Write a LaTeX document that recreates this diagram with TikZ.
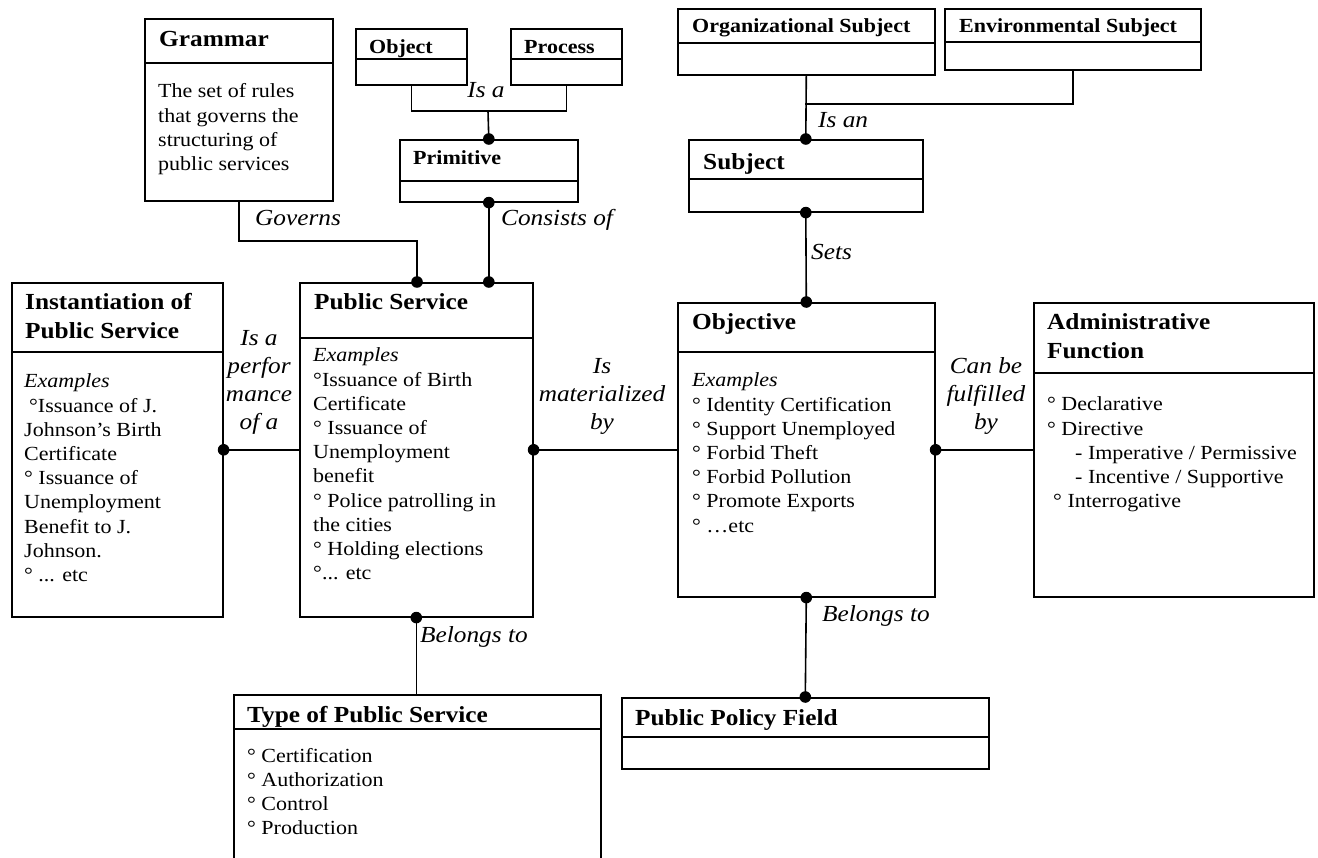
\documentclass[tikz,border=0pt]{standalone}
\usepackage{fontspec}
\setmainfont{Liberation Serif}[FakeStretch=1.1]
\usetikzlibrary{calc}
\tikzset{
  cls/.style={draw, line width=1.6pt, rectangle, inner sep=0pt, anchor=north west},
  ttl/.style={anchor=base west, inner sep=0pt, font=\fontsize{23}{29}\selectfont\bfseries},
  sttl/.style={anchor=base west, inner sep=0pt, font=\fontsize{20}{24}\selectfont\bfseries},
  bodytxt/.style={anchor=base west, inner sep=0pt, font=\fontsize{20}{24.2}\selectfont},
  lbl/.style={inner sep=0pt, align=center, font=\fontsize{23}{28}\selectfont\itshape},
  conn/.style={line width=1.6pt},
  dotmark/.style={fill=black},
}
\newcommand\divline[2]{\draw[conn] ([yshift=-#2pt]#1.north west) -- ([yshift=-#2pt]#1.north east);}
\newcommand\pbx[1]{\parbox[t]{300pt}{\raggedright #1}}
\newcommand\jdot[1]{\fill[dotmark] #1 circle (5.8pt);}
\begin{document}
\begin{tikzpicture}[x=1pt,y=-1pt]
\useasboundingbox (0,0) rectangle (1318,858);
\fill[white] (0,0) rectangle (1318,858);
\clip (0,0) rectangle (1318,858);

% ---------- boxes ----------
\node[cls, minimum width=188pt, minimum height=182pt] (grammar) at (144,18) {};
\divline{grammar}{45}
\node[cls, minimum width=111pt, minimum height=56pt] (object) at (355,28) {};
\divline{object}{31}
\node[cls, minimum width=111pt, minimum height=56pt] (process) at (510,28) {};
\divline{process}{31}
\node[cls, minimum width=178pt, minimum height=62pt] (primitive) at (399,139) {};
\divline{primitive}{42}
\node[cls, minimum width=257pt, minimum height=66pt] (orgsub) at (677,8) {};
\divline{orgsub}{35}
\node[cls, minimum width=256pt, minimum height=61pt] (envsub) at (944,8) {};
\divline{envsub}{34}
\node[cls, minimum width=234pt, minimum height=72pt] (subject) at (688,139) {};
\divline{subject}{40}
\node[cls, minimum width=211pt, minimum height=334pt] (inst) at (11,282) {};
\divline{inst}{70}
\node[cls, minimum width=233pt, minimum height=334pt] (pubserv) at (299,282) {};
\divline{pubserv}{56}
\node[cls, minimum width=257pt, minimum height=294pt] (objective) at (677,302) {};
\divline{objective}{50}
\node[cls, minimum width=280pt, minimum height=294pt] (admin) at (1033,302) {};
\divline{admin}{71}
\node[cls, minimum width=367pt, minimum height=190pt] (typeps) at (233,694) {};
\divline{typeps}{35}
\node[cls, minimum width=367pt, minimum height=71pt] (ppf) at (621,697) {};
\divline{ppf}{40}

% ---------- titles ----------
\node[ttl] (grammarT) at (159,47) {Grammar};
\node[sttl] (objectT) at (369,54) {Object};
\node[sttl] (processT) at (524,54) {Process};
\node[sttl] (primitiveT) at (413,165) {Primitive};
\node[sttl] (orgsubT) at (692,33) {Organizational Subject};
\node[sttl] (envsubT) at (959,33) {Environmental Subject};
\node[ttl] (subjectT) at (703,170) {Subject};
\node[ttl] (instT) at (25,310) {\pbx{Instantiation of\\Public Service}};
\node[ttl] (pubservT) at (314,310) {Public Service};
\node[ttl] (objectiveT) at (692,330) {Objective};
\node[ttl] (adminT) at (1047,330) {\pbx{Administrative\\Function}};
\node[ttl] (typepsT) at (247,722) {Type of Public Service};
\node[ttl] (ppfT) at (635,725) {Public Policy Field};

% ---------- bodies ----------
\node[bodytxt] (grammarB) at (158,98) {\pbx{The set of rules\\that governs the\\structuring of\\public services}};
\node[bodytxt] (instB) at (24,388) {\pbx{\textit{Examples}\\\hspace*{5pt}°Issuance of J.\\Johnson's Birth\\Certificate\\° Issuance of\\Unemployment\\Benefit to J.\\Johnson.\\° ... etc}};
\node[bodytxt] (pubservB) at (313,362) {\pbx{\textit{Examples}\\°Issuance of Birth\\Certificate\\° Issuance of\\Unemployment\\benefit\\° Police patrolling in\\the cities\\° Holding elections\\°... etc}};
\node[bodytxt] (objectiveB) at (692,387) {\pbx{\textit{Examples}\\° Identity Certification\\° Support Unemployed\\° Forbid Theft\\° Forbid Pollution\\° Promote Exports\\° …etc}};
\node[bodytxt] (adminB) at (1047,411) {\pbx{° Declarative\\° Directive\\\hspace*{28pt}- Imperative / Permissive\\\hspace*{28pt}- Incentive / Supportive\\\hspace*{6pt}° Interrogative}};
\node[bodytxt] (typepsB) at (247,762) {\pbx{° Certification\\° Authorization\\° Control\\° Production}};

% ---------- connectors ----------
\coordinate (isaJ) at (488,111);
\draw[conn] (object.south) |- (isaJ) -| (process.south);
\draw[conn] (isaJ) -- (primitive.north);
\jdot{(primitive.north)}
\node[lbl] (isaL) at (486,90) {Is a};

\draw[conn] (primitive.south) -- (primitive.south |- pubserv.north);
\jdot{(primitive.south)}
\jdot{(primitive.south |- pubserv.north)}
\node[lbl, anchor=west] (consL) at (501,220) {Consists of};

\coordinate (govJ) at (417,241);
\draw[conn] (grammar.south) |- (govJ) -- (govJ |- pubserv.north);
\jdot{(govJ |- pubserv.north)}
\node[lbl, anchor=west] (govL) at (255,218) {Governs};

\coordinate (isanJ) at (805,104);
\draw[conn] (orgsub.south) -- (subject.north);
\draw[conn] (envsub.south) |- (isanJ);
\jdot{(subject.north)}
\node[lbl, anchor=west] (isanL) at (818,120) {Is an};

\draw[conn] (subject.south) -- (objective.north);
\jdot{(subject.south)}
\jdot{(objective.north)}
\node[lbl, anchor=west] (setsL) at (811,252) {Sets};

\draw[conn] (inst.east) -- (pubserv.west);
\jdot{(inst.east)}
\node[lbl] (perfL) at (259,382) {Is a\\perfor\\mance\\of a};

\draw[conn] (pubserv.east) -- (objective.west);
\jdot{(pubserv.east)}
\node[lbl] (matL) at (602,396) {Is\\materialized\\by};

\draw[conn] (objective.east) -- (admin.west);
\jdot{(objective.east)}
\node[lbl] (fulL) at (986,396) {Can be\\fulfilled\\by};

\draw[conn] (pubserv.south) -- (pubserv.south |- typeps.north);
\jdot{(pubserv.south)}
\node[lbl, anchor=west] (bel1L) at (420,637) {Belongs to};

\draw[conn] (objective.south) -- (ppf.north);
\jdot{(objective.south)}
\jdot{(ppf.north)}
\node[lbl, anchor=west] (bel2L) at (822,616) {Belongs to};
\end{tikzpicture}
\end{document}
